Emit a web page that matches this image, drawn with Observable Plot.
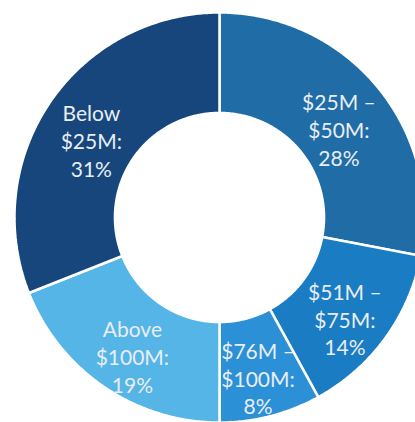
<!DOCTYPE html>
<html>
<head>
<meta charset="utf-8">
<script src="https://cdn.jsdelivr.net/npm/d3@7"></script>
<script src="https://cdn.jsdelivr.net/npm/@observablehq/plot@0.6"></script>
<style>
  html, body { margin: 0; padding: 0; background: #ffffff; overflow: hidden; }
  #chart svg { display: block; }
</style>
</head>
<body>
<div id="chart"></div>
<script>
// Data (clockwise from 12 o'clock)
const categories = ["$25M –\n$50M", "$51M –\n$75M", "$76M –\n$100M", "Above\n$100M", "Below\n$25M"];
const shares = [28, 14, 8, 19, 31];
const colors = ["#1f6ca7", "#1a7cc2", "#2c90d6", "#55b5e6", "#16467c"];

// Geometry (in units of the outer radius)
const outerR = 1;
const innerR = 0.51;
const labelR = 0.756;

// Build slice polygons from the shares
const total = d3.sum(shares);
const slices = [];
let acc = 0;
categories.forEach((c, i) => {
  const a0 = acc / total * 2 * Math.PI;
  acc += shares[i];
  const a1 = acc / total * 2 * Math.PI;
  slices.push({cat: c, share: shares[i], a0, a1, mid: (a0 + a1) / 2});
});

const polyPoints = [];
for (const s of slices) {
  const n = Math.max(4, Math.ceil((s.a1 - s.a0) / (Math.PI / 360)));
  for (let k = 0; k <= n; k++) {
    const a = s.a0 + (s.a1 - s.a0) * k / n;
    polyPoints.push({cat: s.cat, x: outerR * Math.sin(a), y: outerR * Math.cos(a)});
  }
  for (let k = n; k >= 0; k--) {
    const a = s.a0 + (s.a1 - s.a0) * k / n;
    polyPoints.push({cat: s.cat, x: innerR * Math.sin(a), y: innerR * Math.cos(a)});
  }
}

const labels = slices.map(s => ({
  text: `${s.cat}:\n${s.share}%`,
  x: labelR * Math.sin(s.mid),
  y: labelR * Math.cos(s.mid)
}));

const W = 415, H = 422;
const R = 205;           // outer radius in pixels
const cx = 219, cy = 217; // centre in pixels

const chart = Plot.plot({
  width: W,
  height: H,
  margin: 0,
  x: {domain: [-cx / R, (W - cx) / R], axis: null},
  y: {domain: [-(H - cy) / R, cy / R], axis: null},
  color: {domain: categories, range: colors},
  style: {background: "#ffffff"},
  marks: [
    Plot.line(polyPoints, {
      x: "x", y: "y", z: "cat",
      fill: "cat",
      stroke: "#ffffff",
      strokeWidth: 2.5,
      strokeLinejoin: "miter",
      curve: "linear-closed"
    }),
    Plot.text(labels, {
      x: "x", y: "y", text: "text",
      dy: 10,
      fill: "#e8eef4",
      fontSize: 21,
      fontFamily: "Lato, 'Open Sans', sans-serif",
      lineHeight: 1.33
    })
  ]
});
document.getElementById("chart").appendChild(chart);
</script>
</body>
</html>
